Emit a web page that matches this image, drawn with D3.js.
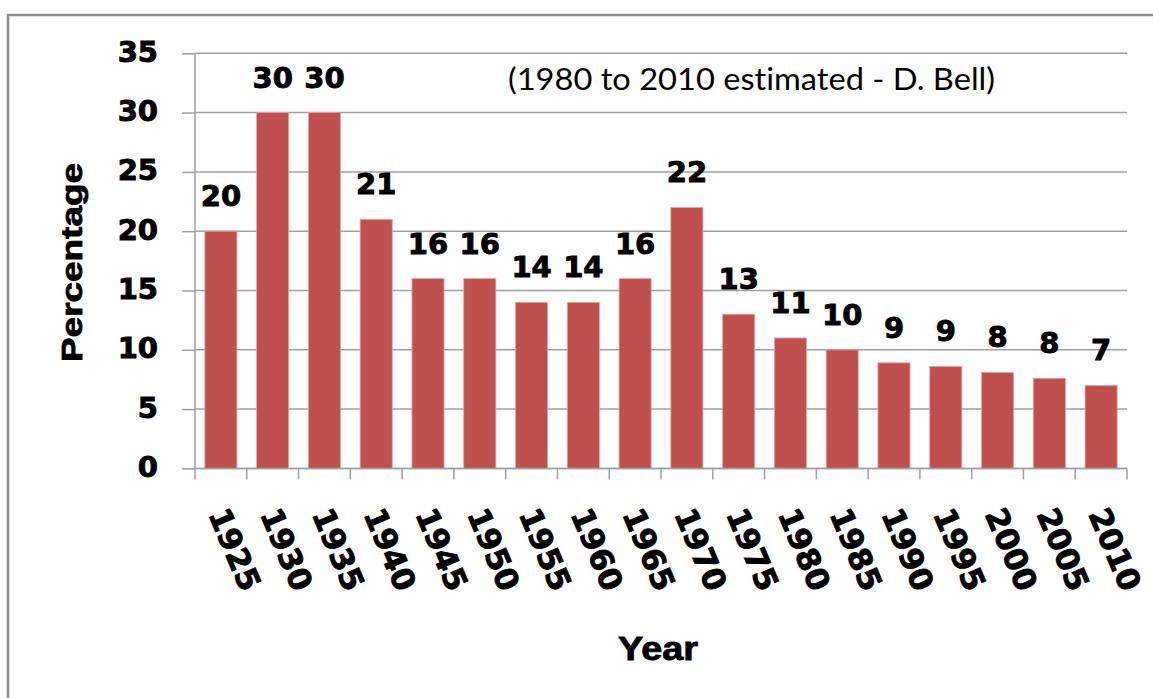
<!DOCTYPE html>
<html>
<head lang="en">
	<meta charset="UTF-8">
	<title>Percentage by Year</title>
	<script src="https://cdn.jsdelivr.net/npm/d3@7/dist/d3.min.js"></script>
	<style type="text/css">
		body { margin: 0; background: #fff; }
		svg { display: block; }
		.num { font-family: 'DejaVu Sans', sans-serif; font-weight: bold; fill: #000; stroke: #000; stroke-width: 0.9px; }
		.note { font-variant-ligatures: none; }
	</style>
</head>
<body>
	<svg class="graph" width="1153" height="698" version="1.1" xmlns="http://www.w3.org/2000/svg"></svg>
	<script type="text/javascript">
		// values (1980 on are estimates)
		var years = ['1925', '1930', '1935', '1940', '1945', '1950', '1955', '1960', '1965',
			'1970', '1975', '1980', '1985', '1990', '1995', '2000', '2005', '2010'];
		var values = [20, 30, 30, 21, 16, 16, 14, 14, 16, 22, 13, 11, 10, 8.9, 8.6, 8.1, 7.6, 7.0];
		var yTicks = [0, 5, 10, 15, 20, 25, 30, 35];
		var note = '(1980 to 2010 estimated - D. Bell)';

		// plot box (note: "top" is taken by window.top)
		var plotL = 195, plotR = 1127, plotT = 53.3, plotB = 468.4;

		var svg = d3.select('svg');

		// frame round the chart
		svg.append('rect')
			.attr('x', 8).attr('y', 15)
			.attr('width', 1200).attr('height', 800)
			.attr('fill', '#fff')
			.attr('stroke', '#8c8c8c')
			.attr('stroke-width', 2.5);

		var x = d3.scaleBand().domain(years).range([plotL, plotR])
			.paddingInner(0.38).paddingOuter(0.19);
		var y = d3.scaleLinear().domain([0, 35]).range([plotB, plotT]);

		// gridlines
		svg.append('g').selectAll('line').data(yTicks).enter().append('line')
			.attr('x1', plotL).attr('x2', plotR)
			.attr('y1', function (d) { return y(d); })
			.attr('y2', function (d) { return y(d); })
			.attr('stroke', '#a0a0a0')
			.attr('stroke-width', 1.5);

		// bars
		svg.append('g').selectAll('rect').data(values).enter().append('rect')
			.attr('x', function (d, i) { return x(years[i]); })
			.attr('y', function (d) { return y(d); })
			.attr('width', x.bandwidth())
			.attr('height', function (d) { return y(0) - y(d); })
			.attr('fill', '#C0504D')
			.attr('stroke', '#e2a8a6')
			.attr('stroke-width', 0.8);

		// value labels
		svg.append('g').selectAll('text').data(values).enter().append('text')
			.attr('class', 'num')
			.attr('x', function (d, i) { return x(years[i]) + x.bandwidth() / 2; })
			.attr('y', function (d) { return y(d) - 25; })
			.attr('text-anchor', 'middle')
			.attr('font-size', 29)
			.text(function (d) { return Math.round(d); });

		// y axis
		var yAxis = svg.append('g')
			.attr('transform', 'translate(' + plotL + ',0)')
			.call(d3.axisLeft(y).tickValues(yTicks).tickSize(13).tickPadding(24));
		yAxis.select('.domain').attr('stroke', '#a0a0a0').attr('stroke-width', 1.5)
			.attr('d', 'M0,' + plotT + 'V' + plotB);
		yAxis.selectAll('.tick line').attr('stroke', '#a0a0a0').attr('stroke-width', 1.5);
		yAxis.selectAll('.tick text')
			.attr('class', 'num')
			.attr('dy', 8)
			.attr('font-size', 29);

		// x axis: line plus ticks between categories
		var bounds = years.map(function (d) { return x(d) - x.step() * x.paddingOuter(); });
		bounds.push(plotR);
		svg.append('line')
			.attr('x1', plotL).attr('x2', plotR)
			.attr('y1', y(0)).attr('y2', y(0))
			.attr('stroke', '#a0a0a0').attr('stroke-width', 1.5);
		svg.append('g').selectAll('line').data(bounds).enter().append('line')
			.attr('x1', function (d) { return d; })
			.attr('x2', function (d) { return d; })
			.attr('y1', y(0)).attr('y2', y(0) + 11)
			.attr('stroke', '#a0a0a0').attr('stroke-width', 1.5);

		// rotated year labels
		svg.append('g').selectAll('text').data(years).enter().append('text')
			.attr('class', 'num')
			.attr('transform', function (d) {
				return 'translate(' + (x(d) + x.bandwidth() / 2 - 13) + ',514) rotate(67)';
			})
			.attr('font-size', 31)
			.text(function (d) { return d; });

		// axis titles
		svg.append('text')
			.attr('transform', 'translate(81.5,262.5) rotate(-90)')
			.attr('text-anchor', 'middle')
			.attr('font-family', 'Liberation Sans, Arial, sans-serif')
			.attr('font-weight', 'bold')
			.attr('font-size', 30)
			.attr('textLength', 199)
			.attr('lengthAdjust', 'spacingAndGlyphs')
			.attr('stroke', '#000').attr('stroke-width', 0.8)
			.text('Percentage');

		svg.append('text')
			.attr('x', 618).attr('y', 660)
			.attr('font-family', 'Liberation Sans, Arial, sans-serif')
			.attr('font-weight', 'bold')
			.attr('font-size', 32.5)
			.attr('textLength', 80)
			.attr('lengthAdjust', 'spacingAndGlyphs')
			.attr('stroke', '#000').attr('stroke-width', 0.8)
			.text('Year');

		// note in the plot
		svg.append('text')
			.attr('class', 'note')
			.attr('x', 508).attr('y', 90)
			.attr('font-family', 'Lato, Open Sans, sans-serif')
			.attr('font-size', 30)
			.attr('textLength', 487)
			.attr('lengthAdjust', 'spacingAndGlyphs')
			.attr('fill', '#000')
			.text(note);
	</script>
</body>
</html>
